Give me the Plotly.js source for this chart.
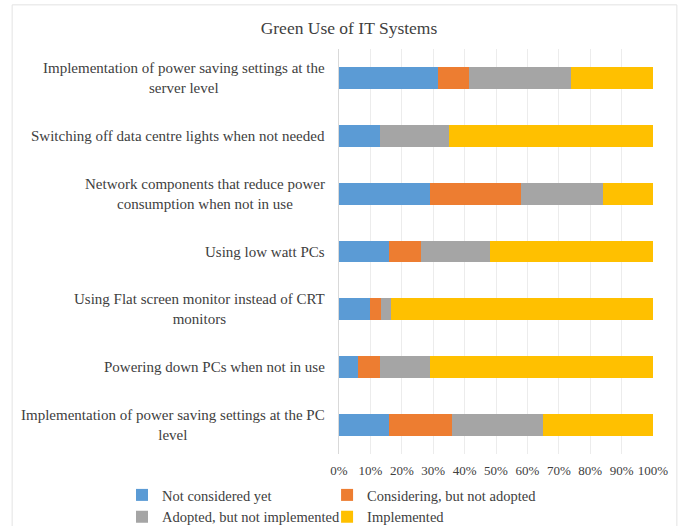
<!DOCTYPE html>
<html><head><meta charset="utf-8">
<script src="https://cdn.plot.ly/plotly-3.0.1.min.js"></script>
<style>html,body{margin:0;padding:0;background:#fff}#chart{width:691px;height:526px}</style>
</head><body><div id="chart"></div>
<script>
const categories = [
  "Implementation of power saving settings at the<br>server level",
  "Switching off data centre lights when not needed",
  "Network components that reduce power<br>consumption when not in use",
  "Using low watt PCs",
  "Using Flat screen monitor instead of CRT<br>monitors",
  "Powering down PCs when not in use",
  "Implementation of power saving settings at the PC<br>level"
];
const notConsidered = [31.5, 13, 29, 16, 10, 6, 16];
const considering   = [10, 0, 29, 10, 3.5, 7, 20];
const adoptedNotImpl= [32.5, 22, 26, 22, 3, 16, 29];
const implemented   = [26, 65, 16, 52, 83.5, 71, 35];
const seriesNames = ["Not considered yet","Considering, but not adopted","Adopted, but not implemented","Implemented"];
const colors = ["#5B9BD5","#ED7D31","#A5A5A5","#FFC000"];
const tickVals = [0,10,20,30,40,50,60,70,80,90,100];
const tickText = ["0%","10%","20%","30%","40%","50%","60%","70%","80%","90%","100%"];

const ids = categories.map((c,i)=>"c"+i);
const all = [notConsidered, considering, adoptedNotImpl, implemented];
const legendOf = ["legend","legend2","legend","legend2"];
const traces = all.map((vals,k)=>({
  type:"bar", orientation:"h", name:seriesNames[k], x:vals, y:ids, legend:legendOf[k],
  marker:{color:colors[k], line:{width:0}}, hoverinfo:"x+name"
}));
const font = "'Liberation Serif','Times New Roman',serif";
const annotations = categories.map((c,i)=>({
  xref:"paper", yref:"y", x:0, xshift:-12, y:ids[i], xanchor:"right", yanchor:"middle",
  text:c, align:"center", showarrow:false, font:{family:font,size:15,color:"#404040"}
}));
const legendBase = {orientation:"v", xanchor:"left", yref:"container", y:0.0894, yanchor:"top",
  traceorder:"normal", font:{family:font,size:14.5,color:"#404040"}, bgcolor:"rgba(0,0,0,0)"};
const layout = {
  width:691, height:526,
  margin:{l:339, r:38, t:49, b:72},
  paper_bgcolor:"#fff", plot_bgcolor:"#fff",
  barmode:"stack", bargap:0.62,
  title:{text:"Green Use of IT Systems", x:0.505, xanchor:"center", y:0.947, yanchor:"middle",
    font:{family:font,size:17.5,color:"#404040"}},
  xaxis:{range:[0,100], tickvals:tickVals, ticktext:tickText, showgrid:true, gridcolor:"#ececec",
    zeroline:false, showline:false, ticks:"", ticklabelstandoff:7,
    tickfont:{family:font,size:13,color:"#404040"}, fixedrange:true},
  yaxis:{type:"category", autorange:"reversed", showticklabels:false, showgrid:false, zeroline:false,
    showline:true, linecolor:"#d9d9d9", ticks:"", fixedrange:true},
  showlegend:true,
  legend:Object.assign({}, legendBase, {x:-0.691}),
  legend2:Object.assign({}, legendBase, {x:-0.038}),
  annotations:annotations,
  shapes:[{type:"rect", xref:"paper", yref:"paper", x0:-1.041, x1:1.076, y0:-0.25, y1:1.109,
    line:{color:"#e3e3e3", width:1}, fillcolor:"rgba(0,0,0,0)", layer:"below"}]
};
Plotly.newPlot("chart", traces, layout, {displayModeBar:false, staticPlot:true});
</script></body></html>
